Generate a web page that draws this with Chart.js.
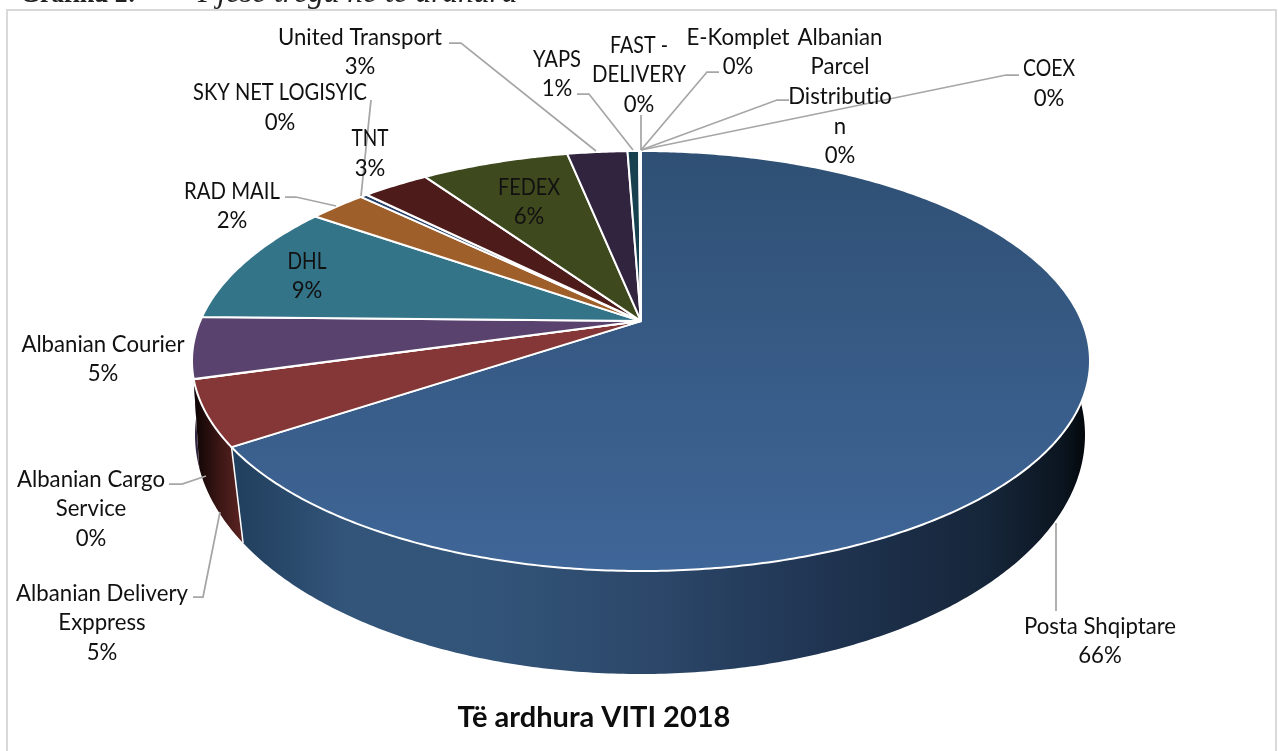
<!DOCTYPE html>
<html>
<head>
<meta charset="utf-8">
<style>
html,body{margin:0;padding:0;background:#fff;overflow:hidden}
canvas{display:block}
</style>
<script src="https://cdn.jsdelivr.net/npm/chart.js@4/dist/chart.umd.min.js"></script>
</head>
<body>
<canvas id="c" width="1278" height="751"></canvas>
<script>
// ---- data ----
const categories = ["Posta Shqiptare","Albanian Delivery Exppress","Albanian Cargo Service","Albanian Courier","DHL","RAD MAIL","SKY NET LOGISYIC","TNT","FEDEX","United Transport","YAPS","FAST - DELIVERY","E-Komplet","Albanian Parcel Distribution","COEX"];
const revenueShare = [65.6,5.0,0.02,4.7,9.4,2.5,0.3,2.9,6.4,2.6,0.5,0.02,0.02,0.02,0.02];
const percentLabels = ["66%","5%","0%","5%","9%","2%","0%","3%","6%","3%","1%","0%","0%","0%","0%"];
const topColors = ["#3a5f8c","#853637","#6f7f3a","#59436e","#347488","#9f5f2b","#27406b","#4e1b1b","#3e4a1e","#30243f","#17414e","#5a2a2a","#4a5a2a","#3a2c50","#1f5060"];
const wallColors = ["#2b4668","#4a1e1c","#3a4520","#322640","#1c4150","#5a3618","#16243c","#2c0f0f","#232a11","#1b1424","#0d252c","#321717","#2a3318","#20182c","#112c36"];

// ---- layout (text positions, separate from data); fit = width of the first-listed capitals lines ----
const labelLayout = [
  {i:0,  x:1100, ys:[627,656], lines:["Posta Shqiptare"]},
  {i:1,  x:102,  ys:[594,623,653], lines:["Albanian Delivery","Exppress"]},
  {i:2,  x:91,   ys:[480,509,539], lines:["Albanian Cargo","Service"]},
  {i:3,  x:103,  ys:[345,374], lines:["Albanian Courier"]},
  {i:4,  x:307,  ys:[262,291], lines:["DHL"], fit:[39]},
  {i:5,  x:232,  ys:[192,221], lines:["RAD MAIL"], fit:[96]},
  {i:6,  x:280,  ys:[93,123],  lines:["SKY NET LOGISYIC"], fit:[174]},
  {i:7,  x:370,  ys:[139,169], lines:["TNT"], fit:[37]},
  {i:8,  x:529,  ys:[188,217], lines:["FEDEX"], fit:[62]},
  {i:9,  x:360,  ys:[38,67],   lines:["United Transport"]},
  {i:10, x:557,  ys:[60,89],   lines:["YAPS"], fit:[48]},
  {i:11, x:639,  ys:[46,75,105], lines:["FAST -","DELIVERY"], fit:[58,94]},
  {i:12, x:738,  ys:[38,67],   lines:["E-Komplet"]},
  {i:13, x:840,  ys:[38,67,97,127,156], lines:["Albanian","Parcel","Distributio","n"]},
  {i:14, x:1049, ys:[69,99],   lines:["COEX"], fit:[52]}
];
const leaderLines = [
  [[449,43],[461,43],[596,151]],
  [[371,100],[361,196]],
  [[285,197],[296,197],[336,206]],
  [[577,94],[589,94],[633,150]],
  [[641,115],[641,150]],
  [[719,72],[707,72],[641,150]],
  [[789,100],[777,100],[641,150]],
  [[1019,75],[1006,75],[641,150]],
  [[169,484],[182,484],[206,476]],
  [[193,597],[203,597],[220,512]],
  [[1056,523],[1056,611]]
];

// Perspective view of the pie disc: top face and bottom face of the cylinder
const topFace = {cx:641, cy:361, rx:449, ry:210, d:0.19};
const botFace = {cx:640, cy:435, rx:445, ry:239, d:0.14};
function project(f, a){
  const u = Math.cos(a), v = Math.sin(a);
  const w = 1 - f.d * v;
  return [f.cx + f.rx * u * Math.sqrt(1 - f.d * f.d) / w,
          f.cy + f.ry * (v - f.d) / w];
}
function apex(f){ return [f.cx, f.cy - f.ry * f.d]; }
function samples(a0, a1){
  const n = Math.max(2, Math.ceil(Math.abs(a1 - a0) / 0.01));
  const out = [];
  for (let k = 0; k <= n; k++) out.push(a0 + (a1 - a0) * k / n);
  return out;
}

// Arc elements keep the library's computed angles; only the projection changes
Chart.ArcElement.prototype.draw = function(ctx){
  const o = this.options;
  const p0 = apex(topFace);
  ctx.save();
  ctx.beginPath();
  ctx.moveTo(p0[0], p0[1]);
  samples(this.startAngle, this.endAngle).forEach(a => {
    const p = project(topFace, a);
    ctx.lineTo(p[0], p[1]);
  });
  ctx.closePath();
  ctx.fillStyle = o.backgroundColor;
  ctx.fill();
  ctx.lineJoin = 'round';
  ctx.lineWidth = o.borderWidth;
  ctx.strokeStyle = o.borderColor;
  ctx.stroke();
  ctx.restore();
};

const scene = {
  id:'scene',
  beforeDatasetsDraw(chart){
    const ctx = chart.ctx;
    // frame
    ctx.save();
    ctx.strokeStyle = '#d9d9d9';
    ctx.lineWidth = 2;
    ctx.beginPath();
    ctx.moveTo(7, 751); ctx.lineTo(7, 10); ctx.lineTo(1276, 10); ctx.lineTo(1276, 751);
    ctx.stroke();
    // clipped document caption above the frame
    ctx.fillStyle = '#222';
    ctx.textAlign = 'left';
    ctx.textBaseline = 'alphabetic';
    ctx.font = 'bold 30px "Liberation Serif"';
    ctx.fillText('Grafiku 2:', 20, 1.5, 116);
    ctx.font = 'italic 31.5px "Liberation Serif"';
    ctx.fillText('Pjesë tregu në të ardhura', 198, 1.5);
    // side wall, back slices first
    const arcs = chart.getDatasetMeta(0).data.map((el, i) => ({el, i}));
    const grad = (x0, x1, stops) => {
      const g = ctx.createLinearGradient(x0, 0, x1, 0);
      stops.forEach(s => g.addColorStop(s[0], s[1]));
      return g;
    };
    arcs.slice().reverse().forEach(({el, i}) => {
      const as = samples(el.startAngle, el.endAngle);
      ctx.beginPath();
      as.forEach((a, k) => { const p = project(topFace, a); k ? ctx.lineTo(p[0], p[1]) : ctx.moveTo(p[0], p[1]); });
      as.slice().reverse().forEach(a => { const p = project(botFace, a); ctx.lineTo(p[0], p[1]); });
      ctx.closePath();
      if (i === 0) {
        ctx.fillStyle = grad(243, 1088, [[0,'#22405f'],[0.12,'#33557a'],[0.3,'#325478'],[0.5,'#2b4668'],[0.7,'#1f3350'],[0.88,'#16263a'],[0.97,'#0b1520'],[1,'#03060a']]);
      } else if (i === 1) {
        ctx.fillStyle = grad(197, 243, [[0,'#120606'],[0.5,'#3c1715'],[1,'#5c2422']]);
      } else {
        ctx.fillStyle = wallColors[i];
      }
      ctx.fill();
    });
    // seam between the two visible wall parts
    const seam = arcs[0].el.endAngle;
    const a = project(topFace, seam), b = project(botFace, seam);
    ctx.strokeStyle = '#fff';
    ctx.lineWidth = 1.5;
    ctx.beginPath(); ctx.moveTo(a[0], a[1]); ctx.lineTo(b[0], b[1]); ctx.stroke();
    ctx.restore();
  },
  afterDatasetsDraw(chart){
    const ctx = chart.ctx;
    ctx.save();
    ctx.strokeStyle = '#a6a6a6';
    ctx.lineWidth = 1.75;
    leaderLines.forEach(line => {
      ctx.beginPath();
      line.forEach((p, k) => k ? ctx.lineTo(p[0], p[1]) : ctx.moveTo(p[0], p[1]));
      ctx.stroke();
    });
    ctx.fillStyle = '#111';
    ctx.textRendering = 'optimizeSpeed';
    ctx.font = '22.2px Lato';
    ctx.textAlign = 'center';
    ctx.textBaseline = 'middle';
    labelLayout.forEach(l => {
      const texts = l.lines.concat(percentLabels[l.i]);
      texts.forEach((t, k) => {
        if (l.fit && l.fit[k]) ctx.fillText(t, l.x, l.ys[k], l.fit[k]);
        else ctx.fillText(t, l.x, l.ys[k]);
      });
    });
    ctx.restore();
  }
};

new Chart(document.getElementById('c'), {
  type:'pie',
  data:{
    labels:categories,
    datasets:[{
      data:revenueShare,
      backgroundColor(c){
        if (c.dataIndex === 0) {
          const g = c.chart.ctx.createLinearGradient(0, 151, 0, 571);
          g.addColorStop(0, '#2f5074');
          g.addColorStop(1, '#3f6698');
          return g;
        }
        return topColors[c.dataIndex];
      },
      borderColor:'#ffffff',
      borderWidth:2
    }]
  },
  options:{
    responsive:false,
    animation:false,
    events:[],
    layout:{padding:{right:90,bottom:16}},
    plugins:{
      legend:{display:false},
      tooltip:{enabled:false},
      title:{
        display:true,
        position:'bottom',
        text:'Të ardhura VITI 2018',
        color:'#0d0d0d',
        font:{family:'Lato',weight:'bold',size:29},
        padding:{top:0,bottom:0}
      }
    }
  },
  plugins:[scene]
});
</script>
</body>
</html>
